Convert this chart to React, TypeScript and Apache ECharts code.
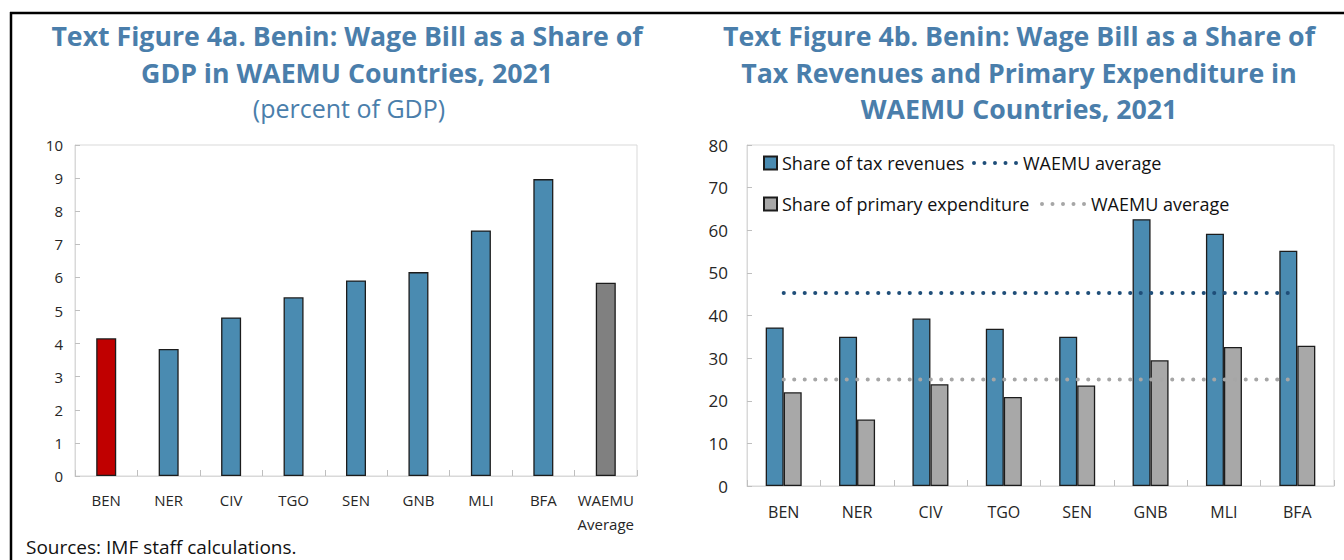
import React, { useEffect, useRef } from "react";
import * as echarts from "echarts";

// ---- Data ----
const FIG_A_CATEGORIES = ["BEN", "NER", "CIV", "TGO", "SEN", "GNB", "MLI", "BFA", "WAEMU\nAverage"];
const FIG_A_VALUES = [4.16, 3.84, 4.79, 5.4, 5.91, 6.16, 7.42, 8.97, 5.84];

const FIG_B_CATEGORIES = ["BEN", "NER", "CIV", "TGO", "SEN", "GNB", "MLI", "BFA"];
const TAX_SHARE = [37.2, 35.0, 39.3, 36.9, 35.0, 62.6, 59.2, 55.2];
const EXPENDITURE_SHARE = [22.0, 15.6, 23.9, 20.9, 23.6, 29.5, 32.6, 32.9];
const TAX_WAEMU_AVERAGE = 45.3;
const EXPENDITURE_WAEMU_AVERAGE = 25.0;

const FIG_A_Y_MIN = 0;
const FIG_A_Y_MAX = 10;
const FIG_A_Y_STEP = 1;
const FIG_B_Y_MIN = 0;
const FIG_B_Y_MAX = 80;
const FIG_B_Y_STEP = 10;

// ---- Styles ----
const FONT = '"Open Sans", "Noto Sans", sans-serif';
const TITLE_COLOR = "#4a7eab";
const BLUE = "#4a8bb1";
const RED = "#c00000";
const DARK_GRAY = "#808080";
const LIGHT_GRAY = "#a8a8a8";
const BORDER = "#1c1c1c";
const AXIS_GRAY = "#d9d9d9";
const TICK_GRAY = "#bfbfbf";
const LABEL_COLOR = "#262626";
const AVG_BLUE = "#1f4e79";
const AVG_GRAY = "#a6a6a6";

// five dots, 46 x 4 box, used as legend icon for the dotted average lines
const DOT_ICON =
  "path://" +
  [2, 12.5, 23, 33.5, 44]
    .map((cx) => `M${cx - 2},2a2,2 0 1,0 4,0a2,2 0 1,0 -4,0Z`)
    .join(" ");

export default function App() {
  const ref = useRef<HTMLDivElement>(null);

  useEffect(() => {
    document.body.style.margin = "0";
    if (!ref.current) return;
    const chart = echarts.init(ref.current, null, { renderer: "svg" });

    const titleText = (text: string, x: number, y: number, bold: boolean, size: number) => ({
      type: "text",
      x,
      y,
      style: {
        text,
        fill: TITLE_COLOR,
        fontFamily: FONT,
        fontSize: size,
        fontWeight: bold ? "bold" : "normal",
        align: "center",
        verticalAlign: "middle",
        textAlign: "center",
        textVerticalAlign: "middle",
      },
    });

    const legendBase = {
      show: true,
      orient: "horizontal",
      padding: 0,
      selectedMode: false,
      textStyle: { fontFamily: FONT, fontSize: 18, color: "#111" },
    };

    const lastA = FIG_A_VALUES.length - 1;

    const option: any = {
      animation: false,
      textStyle: { fontFamily: FONT },
      grid: [
        { left: 75, top: 145, width: 562, height: 331, show: true, borderColor: AXIS_GRAY, borderWidth: 1, containLabel: false },
        { left: 747, top: 145, width: 587, height: 341, show: true, borderColor: AXIS_GRAY, borderWidth: 1, containLabel: false },
      ],
      xAxis: [
        {
          type: "category",
          gridIndex: 0,
          data: FIG_A_CATEGORIES,
          axisLine: { show: true, lineStyle: { color: AXIS_GRAY } },
          axisTick: { show: true, inside: true, length: 6, lineStyle: { color: TICK_GRAY } },
          axisLabel: { interval: 0, fontSize: 15, color: LABEL_COLOR, margin: 12, lineHeight: 24, fontFamily: FONT },
          splitLine: { show: false },
        },
        {
          type: "category",
          gridIndex: 1,
          data: FIG_B_CATEGORIES,
          axisLine: { show: true, lineStyle: { color: AXIS_GRAY } },
          axisTick: { show: true, inside: true, length: 6, lineStyle: { color: TICK_GRAY } },
          axisLabel: { interval: 0, fontSize: 16, color: LABEL_COLOR, margin: 16, lineHeight: 20, fontFamily: FONT },
          splitLine: { show: false },
        },
      ],
      yAxis: [
        {
          type: "value",
          gridIndex: 0,
          min: FIG_A_Y_MIN,
          max: FIG_A_Y_MAX,
          interval: FIG_A_Y_STEP,
          splitLine: { show: false },
          axisLine: { show: true, lineStyle: { color: AXIS_GRAY } },
          axisTick: { show: true, inside: true, length: 5, lineStyle: { color: TICK_GRAY } },
          axisLabel: { fontSize: 15, color: LABEL_COLOR, margin: 12, fontFamily: FONT },
        },
        {
          type: "value",
          gridIndex: 1,
          min: FIG_B_Y_MIN,
          max: FIG_B_Y_MAX,
          interval: FIG_B_Y_STEP,
          splitLine: { show: false },
          axisLine: { show: true, lineStyle: { color: AXIS_GRAY } },
          axisTick: { show: true, inside: true, length: 5, lineStyle: { color: TICK_GRAY } },
          axisLabel: { fontSize: 17, color: LABEL_COLOR, margin: 19, fontFamily: FONT },
        },
      ],
      legend: [
        { ...legendBase, left: 763, top: 154, icon: "rect", itemWidth: 13, itemHeight: 13, data: ["Share of tax revenues"] },
        {
          ...legendBase,
          left: 972,
          top: 154,
          itemWidth: 46,
          itemHeight: 4,
          data: [{ name: "Tax WAEMU average", icon: DOT_ICON, itemStyle: { color: AVG_BLUE, borderWidth: 0 } }],
          formatter: () => "WAEMU average",
        },
        { ...legendBase, left: 763, top: 195, icon: "rect", itemWidth: 13, itemHeight: 13, data: ["Share of primary expenditure"] },
        {
          ...legendBase,
          left: 1040,
          top: 195,
          itemWidth: 46,
          itemHeight: 4,
          data: [{ name: "Expenditure WAEMU average", icon: DOT_ICON, itemStyle: { color: AVG_GRAY, borderWidth: 0 } }],
          formatter: () => "WAEMU average",
        },
      ],
      series: [
        {
          type: "bar",
          name: "Wage bill (percent of GDP)",
          xAxisIndex: 0,
          yAxisIndex: 0,
          barWidth: 20,
          itemStyle: { borderColor: BORDER, borderWidth: 1.3 },
          data: FIG_A_VALUES.map((v, i) => ({
            value: v,
            itemStyle: { color: i === 0 ? RED : i === lastA ? DARK_GRAY : BLUE },
          })),
        },
        {
          type: "bar",
          name: "Share of tax revenues",
          xAxisIndex: 1,
          yAxisIndex: 1,
          barWidth: 18,
          barGap: "0%",
          itemStyle: { color: BLUE, borderColor: BORDER, borderWidth: 1.3 },
          data: TAX_SHARE,
        },
        {
          type: "bar",
          name: "Share of primary expenditure",
          xAxisIndex: 1,
          yAxisIndex: 1,
          barWidth: 18,
          barGap: "0%",
          itemStyle: { color: LIGHT_GRAY, borderColor: BORDER, borderWidth: 1.3 },
          data: EXPENDITURE_SHARE,
        },
        {
          type: "line",
          name: "Tax WAEMU average",
          xAxisIndex: 1,
          yAxisIndex: 1,
          symbol: "none",
          z: 5,
          color: AVG_BLUE,
          itemStyle: { color: AVG_BLUE },
          lineStyle: { color: AVG_BLUE, width: 4, type: [0.1, 10.4], cap: "round" },
          data: FIG_B_CATEGORIES.map(() => TAX_WAEMU_AVERAGE),
        },
        {
          type: "line",
          name: "Expenditure WAEMU average",
          xAxisIndex: 1,
          yAxisIndex: 1,
          symbol: "none",
          z: 5,
          color: AVG_GRAY,
          itemStyle: { color: AVG_GRAY },
          lineStyle: { color: AVG_GRAY, width: 4, type: [0.1, 10.4], cap: "round" },
          data: FIG_B_CATEGORIES.map(() => EXPENDITURE_WAEMU_AVERAGE),
        },
      ],
      graphic: [
        { type: "line", shape: { x1: 10, y1: 13, x2: 1344, y2: 13 }, style: { stroke: "#000", lineWidth: 2.5 } },
        { type: "line", shape: { x1: 11, y1: 12, x2: 11, y2: 560 }, style: { stroke: "#000", lineWidth: 2.5 } },
        titleText("Text Figure 4a. Benin: Wage Bill as a Share of", 347, 35, true, 26.7),
        titleText("GDP in WAEMU Countries, 2021", 347, 72, true, 26.7),
        titleText("(percent of GDP)", 349, 108, false, 25),
        titleText("Text Figure 4b. Benin: Wage Bill as a Share of", 1019, 35, true, 26.7),
        titleText("Tax Revenues and Primary Expenditure in", 1019, 72, true, 26.7),
        titleText("WAEMU Countries, 2021", 1019, 108, true, 26.7),
        {
          type: "text",
          x: 26,
          y: 547,
          style: {
            text: "Sources: IMF staff calculations.",
            fill: "#111",
            fontFamily: FONT,
            fontSize: 19,
            align: "left",
            verticalAlign: "middle",
            textAlign: "left",
            textVerticalAlign: "middle",
          },
        },
      ],
    };

    chart.setOption(option);
    return () => chart.dispose();
  }, []);

  return <div ref={ref} style={{ width: 1344, height: 560, overflow: "hidden" }} />;
}
